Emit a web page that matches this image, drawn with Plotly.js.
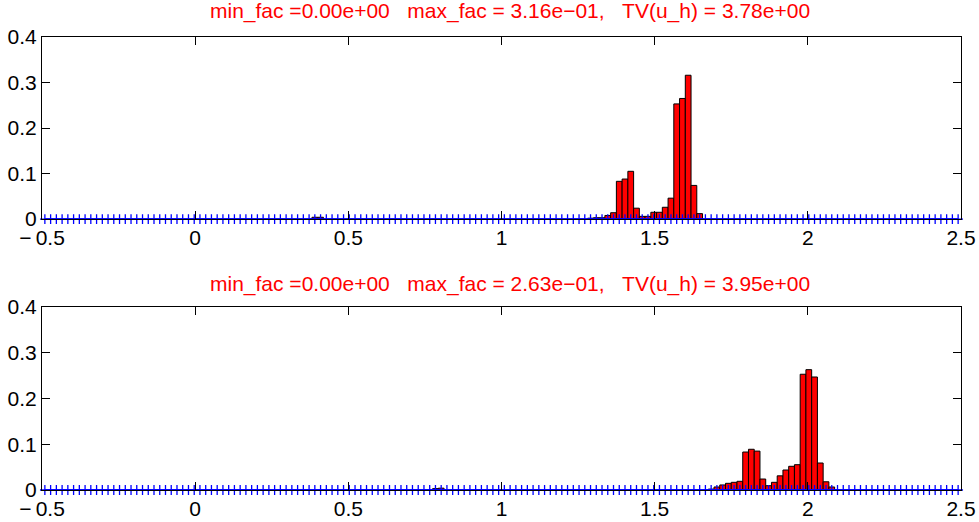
<!DOCTYPE html>
<html>
<head>
<meta charset="utf-8">
<script src="https://cdn.plot.ly/plotly-3.0.1.min.js"></script>
<style>html,body{margin:0;padding:0;background:#fff;}#chart{width:979px;height:522px;}</style>
</head>
<body>
<div id="chart"></div>
<script>
// Mesh
var xMin = -0.5, xMax = 2.5, nCells = 160;
// Top panel: nonzero cells (index) and values
var topCells  = [47, 48, 95, 96, 97, 98, 99, 100, 101, 102, 103, 104, 105, 106, 107, 108, 109, 110, 111, 112, 113, 114];
var topValues = [0.004, 0.004, 0.002, 0.003, 0.003, 0.008, 0.014, 0.083, 0.088, 0.105, 0.024, 0.006, 0.006, 0.015, 0.015, 0.026, 0.046, 0.253, 0.265, 0.316, 0.074, 0.012];
// Bottom panel
var botCells  = [68, 69, 116, 117, 118, 119, 120, 121, 122, 123, 124, 125, 126, 127, 128, 129, 130, 131, 132, 133, 134, 135, 136, 137, 138];
var botValues = [0.003, 0.004, 0.002, 0.0066, 0.011, 0.0146, 0.0168, 0.019, 0.083, 0.089, 0.085, 0.024, 0.0094, 0.0168, 0.031, 0.0437, 0.0518, 0.0553, 0.253, 0.263, 0.247, 0.059, 0.018, 0.0066, 0.001];
// Titles
var topTitle = "min_fac =0.00e+00\u00a0\u00a0\u00a0max_fac = 3.16e\u221201,\u00a0\u00a0\u00a0TV(u_h) = 3.78e+00";
var botTitle = "min_fac =0.00e+00\u00a0\u00a0\u00a0max_fac = 2.63e\u221201,\u00a0\u00a0\u00a0TV(u_h) = 3.95e+00";
var xTicks = [-0.5, 0, 0.5, 1, 1.5, 2, 2.5];
var xTickText = ["\u2212\u20090.5", "0", "0.5", "1", "1.5", "2", "2.5"];
var yTicks = [0, 0.1, 0.2, 0.3, 0.4];
var yTickText = ["0", "0.1", "0.2", "0.3", "0.4"];

var h = (xMax - xMin) / nCells;
function center(i) { return xMin + (i + 0.5) * h; }
var gridX = [], gridY = [];
for (var i = 0; i < nCells; i++) { gridX.push(center(i)); gridY.push(0); }

function barTrace(cells, vals, xa, ya) {
  return {
    type: 'bar', x: cells.map(center), y: vals, width: h,
    xaxis: xa, yaxis: ya,
    marker: {color: '#ff0000', line: {color: '#000000', width: 1}},
    hoverinfo: 'skip', showlegend: false
  };
}
function gridTrace(xa, ya) {
  return {
    type: 'scatter', mode: 'lines+markers', x: gridX, y: gridY,
    xaxis: xa, yaxis: ya, cliponaxis: false,
    line: {color: '#0000ff', width: 1.5},
    marker: {symbol: 'cross-thin', size: 7, color: '#0000ff', line: {color: '#0000ff', width: 1.3}},
    hoverinfo: 'skip', showlegend: false
  };
}

var FAM = 'Liberation Sans, Arial, sans-serif';
var font = {family: FAM, size: 21, color: '#000'};
function xAxis(domainAnchor) {
  return {
    range: [xMin, xMax], anchor: domainAnchor, tickvals: xTicks, ticktext: xTickText, ticks: 'inside', ticklen: 8,
    tickcolor: '#000', showline: true, linecolor: '#000', linewidth: 1, mirror: 'ticks',
    showgrid: false, zeroline: false, tickfont: font
  };
}
function yAxis(domain, anchor) {
  return {
    range: [0, 0.4], domain: domain, anchor: anchor, tickvals: yTicks, ticktext: yTickText,
    ticks: 'inside', ticklen: 8, tickcolor: '#000', showline: true, linecolor: '#000', linewidth: 1,
    mirror: 'ticks', showgrid: false, zeroline: false, tickfont: font
  };
}

var data = [
  barTrace(topCells, topValues, 'x', 'y'), gridTrace('x', 'y'),
  barTrace(botCells, botValues, 'x2', 'y2'), gridTrace('x2', 'y2')
];
var layout = {
  width: 979, height: 522,
  margin: {l: 41.7, r: 18.3, t: 37, b: 32},
  paper_bgcolor: '#fff', plot_bgcolor: '#fff',
  bargap: 0,
  xaxis: xAxis('y'), yaxis: yAxis([0.598, 1], 'x'),
  xaxis2: xAxis('y2'), yaxis2: yAxis([0, 0.404], 'x2'),
  annotations: [
    {text: topTitle, xref: 'paper', yref: 'paper', x: 0.509, y: 1.057, xanchor: 'center', yanchor: 'middle', showarrow: false, font: {family: FAM, size: 21, color: '#ff0000'}},
    {text: botTitle, xref: 'paper', yref: 'paper', x: 0.509, y: 0.4547, xanchor: 'center', yanchor: 'middle', showarrow: false, font: {family: FAM, size: 21, color: '#ff0000'}}
  ]
};
Plotly.newPlot('chart', data, layout, {staticPlot: true, displayModeBar: false});
</script>
</body>
</html>
